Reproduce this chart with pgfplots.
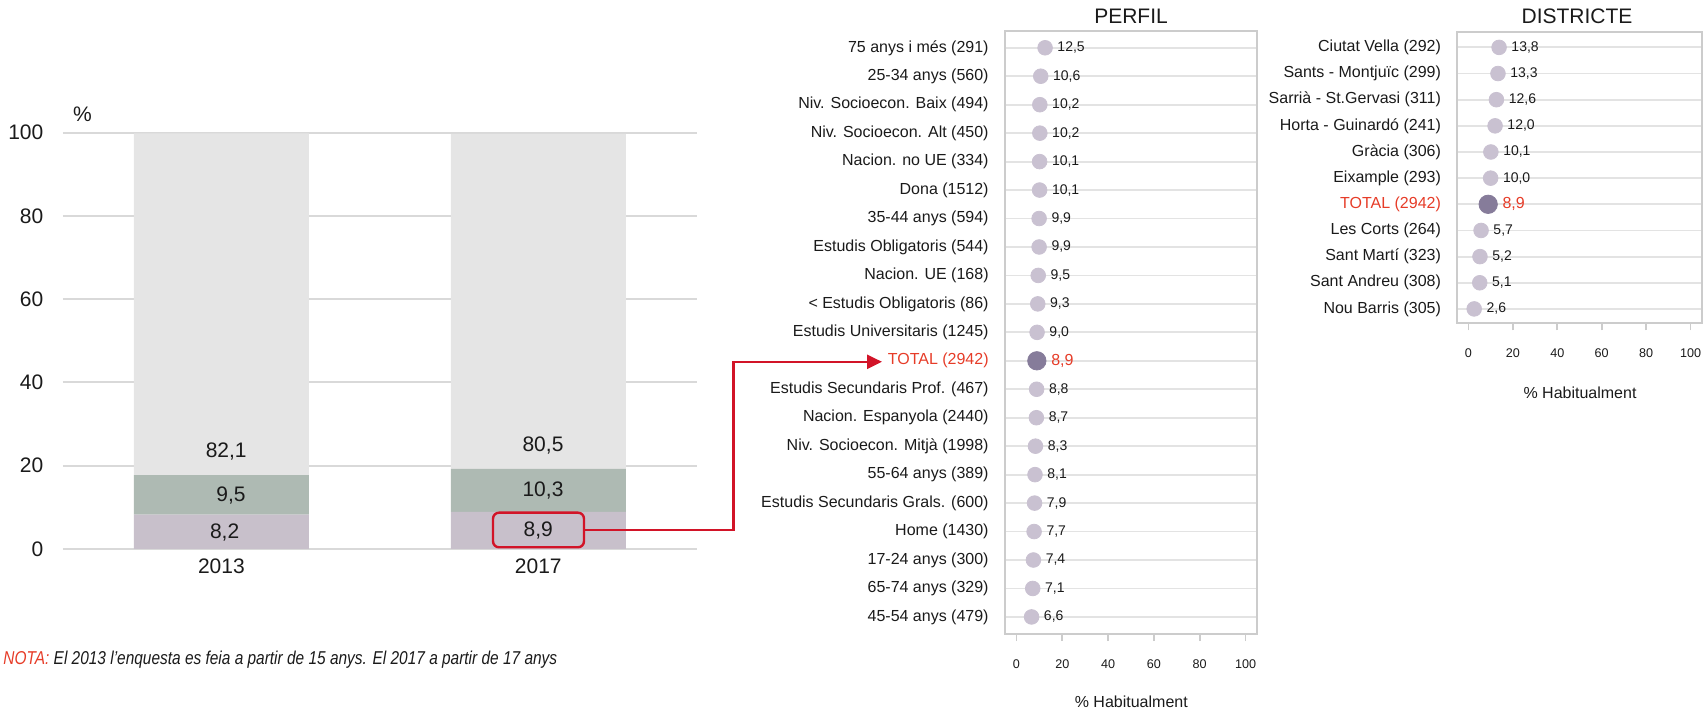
\documentclass[border=0pt]{standalone}
\usepackage{pgfplots}
\pgfplotsset{compat=1.18}
\usepackage{fontspec}
\setmainfont{Liberation Sans}
\newfontfamily\narrowfont[FakeStretch=0.83]{Liberation Sans}
\usetikzlibrary{arrows.meta}

\definecolor{barTop}{HTML}{E5E5E5}
\definecolor{barMid}{HTML}{AEBAB3}
\definecolor{barLow}{HTML}{C8C0CB}
\definecolor{dotLight}{HTML}{C9C1D1}
\definecolor{dotTotal}{HTML}{867C9A}
\definecolor{totRed}{HTML}{E63C28}
\definecolor{arrRed}{HTML}{D21428}
\definecolor{frameGray}{HTML}{CCCCCC}
\definecolor{gridGray}{HTML}{E3E3E3}
\definecolor{txt}{HTML}{1A1A1A}

\tikzset{barlabel/.style={font=\fontsize{10.5}{12}\selectfont, text=txt}}

\pgfplotsset{
  dotplot/.style={
    scale only axis, anchor=south west,
    xmin=-5, xmax=105, y dir=reverse,
    xtick={0,20,...,100},
    /pgf/number format/assume math mode=true,
    axis line style={frameGray, line width=1pt},
    ymajorgrids, grid style={gridGray, line width=0.9pt},
    ytick style={draw=none},
    xtick style={frameGray, line width=0.8pt},
    tick align=outside, major tick length=3.5pt,
    xtick pos=left, ytick pos=left,
    xticklabel style={font=\fontsize{6.3}{7}\selectfont, text=txt, yshift=-5.7pt},
    yticklabel style={font=\fontsize{8}{9}\selectfont, text=txt, inner sep=0pt, xshift=-4.5pt},
    point meta=x,
    nodes near coords={\pgfmathprintnumber[fixed,fixed zerofill,precision=1,use comma,assume math mode=true]{\pgfplotspointmeta}},
  },
  lightdots/.style={only marks, mark=*, mark size=3.67pt, color=dotLight,
    mark options={draw=dotLight, fill=dotLight},
    every node near coord/.append style={anchor=west, inner sep=0pt, xshift=6pt,
      font=\fontsize{7}{8}\selectfont, text=txt}},
  totaldot/.style={only marks, mark=*, mark size=4.6pt, color=dotTotal,
    mark options={draw=dotTotal, fill=dotTotal},
    every node near coord/.append style={anchor=west, inner sep=0pt, xshift=7pt,
      font=\fontsize{8}{9}\selectfont, text=totRed}},
}

\begin{document}
\begin{tikzpicture}
\path[use as bounding box] (0,0) rectangle (852pt,355.5pt);

% stacked bars 2013 / 2017
\begin{axis}[
  scale only axis, anchor=south west, at={(31.5pt,81.1pt)},
  width=316.85pt, height=208.1pt,
  ybar stacked, bar width=87.5pt,
  xmin=-0.5, xmax=1.5, ymin=0, ymax=100,
  xtick={0,1}, xticklabels={2013,2017},
  ytick={0,20,...,100},
  /pgf/number format/assume math mode=true,
  axis line style={draw=none}, major tick length=0pt,
  ymajorgrids, grid style={draw=black!15, line width=1pt},
  tick label style={font=\fontsize{10.5}{12}\selectfont, text=txt},
  xticklabel style={yshift=-1.3pt},
  yticklabel style={xshift=-6.3pt},
]
\addplot[fill=barLow, draw=none] coordinates {(0,8.2) (1,8.9)};
\addplot[fill=barMid, draw=none] coordinates {(0,9.5) (1,10.3)};
\addplot[fill=barTop, draw=none] coordinates {(0,82.1) (1,80.5)};
\end{axis}
% segment values (x=0 at 110.7pt, x=1 at 269.1pt, 2.081pt per %)
\node[barlabel] at (112.3pt,89.2pt) {8,2};
\node[barlabel] at (115.5pt,107.5pt) {9,5};
\node[barlabel] at (113.1pt,129.6pt) {82,1};
\node[barlabel] at (269.1pt,90.05pt) {8,9};
\node[barlabel] at (271.5pt,110.0pt) {10,3};
\node[barlabel] at (271.5pt,132.9pt) {80,5};
\node[barlabel] at (41.2pt,298.5pt) {\%};

% PERFIL
\begin{axis}[dotplot, at={(502.5pt,38.5pt)}, width=126pt, height=301.65pt,
  ymin=-0.6, ymax=20.6, ytick={0,...,20},
  yticklabels={75 anys i més (291), 25-34 anys (560), Niv. Socioecon. Baix (494),
    Niv. Socioecon. Alt (450), Nacion. no UE (334), Dona (1512), 35-44 anys (594),
    Estudis Obligatoris (544), Nacion. UE (168), < Estudis Obligatoris (86),
    Estudis Universitaris (1245), {\color{totRed}TOTAL (2942)},
    Estudis Secundaris Prof. (467), Nacion. Espanyola (2440),
    Niv. Socioecon. Mitjà (1998), 55-64 anys (389), Estudis Secundaris Grals. (600),
    Home (1430), 17-24 anys (300), 65-74 anys (329), 45-54 anys (479)},
]
\addplot[lightdots] coordinates {
  (12.5,0) (10.6,1) (10.2,2) (10.2,3) (10.1,4) (10.1,5) (9.9,6) (9.9,7)
  (9.5,8) (9.3,9) (9.0,10) (8.8,12) (8.7,13) (8.3,14) (8.1,15) (7.9,16)
  (7.7,17) (7.4,18) (7.1,19) (6.6,20)};
\addplot[totaldot] coordinates {(8.9,11)};
\end{axis}
\node[barlabel] at (565.5pt,347.15pt) {PERFIL};
\node[font=\fontsize{8}{9}\selectfont, text=txt] at (565.65pt,4.4pt) {\% Habitualment};

% DISTRICTE
\begin{axis}[dotplot, at={(728.65pt,193.85pt)}, width=122.2pt, height=145.8pt,
  ymin=-0.6, ymax=10.55, ytick={0,...,10},
  yticklabels={Ciutat Vella (292), Sants - Montjuïc (299), Sarrià - St.Gervasi (311),
    Horta - Guinardó (241), Gràcia (306), Eixample (293), {\color{totRed}TOTAL (2942)},
    Les Corts (264), Sant Martí (323), Sant Andreu (308), Nou Barris (305)},
]
\addplot[lightdots] coordinates {
  (13.8,0) (13.3,1) (12.6,2) (12.0,3) (10.1,4) (10.0,5)
  (5.7,7) (5.2,8) (5.1,9) (2.6,10)};
\addplot[totaldot] coordinates {(8.9,6)};
\end{axis}
\node[barlabel] at (788.5pt,347.15pt) {DISTRICTE};
\node[font=\fontsize{8}{9}\selectfont, text=txt] at (790pt,159.15pt) {\% Habitualment};

% highlight and connector
\draw[arrRed, line width=1.2pt, rounded corners=3pt] (246.5pt,81.85pt) rectangle (292pt,99.15pt);
\draw[arrRed, line width=1.2pt, -{Triangle[length=7.5pt,width=7pt]}]
  (292pt,90.5pt) -- (366.7pt,90.5pt) -- (366.7pt,174.6pt) -- (441pt,174.6pt);

\node[anchor=west, inner sep=0pt, font=\narrowfont\itshape\fontsize{9.3}{11}\selectfont, text=txt]
  at (1.5pt,25.5pt) {\textcolor{totRed}{NOTA:} El 2013 l’enquesta es feia a partir de 15 anys. El 2017 a partir de 17 anys};
\end{tikzpicture}
\end{document}
